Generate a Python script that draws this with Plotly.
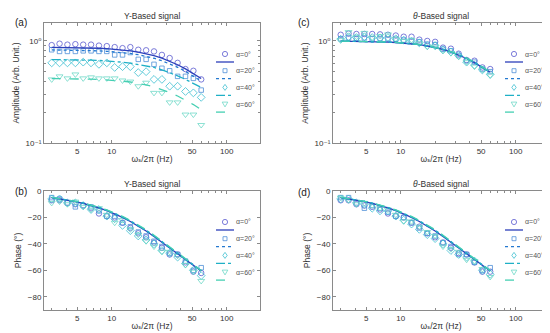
import plotly.graph_objects as go

# ---------------- data ----------------
freq = [3.0, 3.51, 4.11, 4.82, 5.64, 6.60, 7.73, 9.05, 10.6, 12.4,
        14.5, 17.0, 19.9, 23.3, 27.3, 31.9, 37.4, 43.8, 51.3, 60.0]

alpha_labels = ["α=0°", "α=20°", "α=40°", "α=60°"]

# (a) Y-based amplitude: measured points and model lines
ya_a0 = [0.91, 0.94, 0.92, 0.93, 0.92, 0.92, 0.90, 0.89, 0.87, 0.85,
         0.87, 0.82, 0.81, 0.79, 0.73, 0.68, 0.61, 0.53, 0.51, 0.42]
ya_a20 = [0.82, 0.79, 0.79, 0.79, 0.80, 0.80, 0.79, 0.79, 0.73, 0.73,
          0.77, 0.66, 0.66, 0.59, 0.54, 0.51, 0.45, 0.45, 0.43, 0.33]
ya_a40 = [0.61, 0.61, 0.61, 0.61, 0.62, 0.61, 0.59, 0.61, 0.55, 0.56,
          0.56, 0.49, 0.50, 0.42, 0.42, 0.36, 0.36, 0.32, 0.31, 0.28]
ya_a60 = [0.42, 0.45, 0.43, 0.47, 0.43, 0.44, 0.43, 0.43, 0.43, 0.41,
          0.40, 0.36, 0.39, 0.31, 0.31, 0.25, 0.25, 0.19, 0.19, 0.15]
ya_l0 = [0.867, 0.866, 0.864, 0.861, 0.858, 0.854, 0.848, 0.841, 0.831, 0.817,
         0.800, 0.778, 0.751, 0.718, 0.679, 0.634, 0.585, 0.533, 0.481, 0.429]
ya_l20 = [0.817, 0.816, 0.814, 0.812, 0.809, 0.805, 0.800, 0.792, 0.783, 0.770,
          0.754, 0.733, 0.708, 0.677, 0.640, 0.598, 0.552, 0.503, 0.453, 0.404]
ya_l40 = [0.657, 0.657, 0.655, 0.653, 0.651, 0.648, 0.644, 0.638, 0.630, 0.620,
          0.607, 0.590, 0.572, 0.550, 0.522, 0.490, 0.455, 0.420, 0.385, 0.350]
ya_l60 = [0.428, 0.428, 0.427, 0.426, 0.424, 0.422, 0.419, 0.415, 0.411, 0.404,
          0.396, 0.384, 0.371, 0.355, 0.335, 0.313, 0.289, 0.264, 0.238, 0.212]

# (c) theta-based amplitude
ta_a0 = [1.15, 1.18, 1.17, 1.17, 1.17, 1.16, 1.15, 1.13, 1.10, 1.10,
         1.03, 1.00, 0.98, 0.86, 0.84, 0.75, 0.65, 0.64, 0.55, 0.53]
ta_a20 = [1.05, 1.07, 1.06, 1.07, 1.05, 1.06, 1.05, 1.04, 1.02, 1.00,
          0.98, 0.93, 0.92, 0.83, 0.80, 0.72, 0.64, 0.62, 0.53, 0.50]
ta_a40 = [1.04, 1.10, 1.08, 1.10, 1.08, 1.07, 1.08, 1.05, 1.02, 1.00,
          0.96, 0.90, 0.90, 0.82, 0.78, 0.72, 0.62, 0.58, 0.52, 0.47]
ta_a60 = [1.02, 1.22, 1.10, 1.20, 1.08, 1.12, 1.16, 1.05, 1.00, 1.02,
          0.95, 0.88, 0.88, 0.80, 0.76, 0.70, 0.62, 0.56, 0.52, 0.46]
ta_l0 = [0.996, 0.995, 0.993, 0.990, 0.987, 0.982, 0.975, 0.966, 0.955, 0.939,
         0.920, 0.894, 0.863, 0.825, 0.780, 0.729, 0.673, 0.613, 0.553, 0.493]
ta_l20 = [0.996, 0.995, 0.993, 0.990, 0.987, 0.982, 0.975, 0.966, 0.955, 0.940,
          0.921, 0.895, 0.864, 0.826, 0.781, 0.730, 0.674, 0.614, 0.554, 0.494]
ta_l40 = [0.997, 0.996, 0.994, 0.991, 0.988, 0.983, 0.976, 0.967, 0.956, 0.941,
          0.922, 0.896, 0.866, 0.828, 0.783, 0.732, 0.676, 0.616, 0.556, 0.496]
ta_l60 = [0.998, 0.997, 0.995, 0.992, 0.989, 0.984, 0.978, 0.969, 0.958, 0.943,
          0.924, 0.899, 0.869, 0.831, 0.786, 0.735, 0.679, 0.619, 0.559, 0.499]

# (b) Y-based phase
yp_a0 = [-7, -7, -9, -10, -11, -13, -17, -19, -20, -24,
         -28, -32, -35, -39, -43, -48, -48, -54, -61, -62]
yp_a20 = [-5, -6, -9, -12, -11, -12, -15, -19, -19, -24,
          -27, -31, -34, -38, -42, -47, -48, -53, -60, -58]
yp_a40 = [-6, -6, -9, -9, -11, -14, -14, -19, -21, -26,
          -30, -34, -37, -40, -45, -47, -50, -55, -60, -64]
yp_a60 = [-9, -8, -10, -8, -12, -14, -13, -18, -24, -22,
          -29, -33, -38, -42, -46, -46, -49, -56, -61, -68]
yp_l0 = [-5.0, -5.9, -6.9, -8.1, -9.4, -11.0, -12.8, -14.9, -17.3, -20.0,
         -23.1, -26.6, -30.3, -34.4, -38.8, -43.2, -47.7, -52.2, -56.5, -60.5]
yp_l20 = [-5.0, -5.9, -6.9, -8.0, -9.3, -10.9, -12.7, -14.8, -17.2, -19.9,
          -23.0, -26.4, -30.1, -34.2, -38.6, -43.0, -47.5, -52.0, -56.3, -60.4]
yp_l40 = [-4.9, -5.8, -6.8, -7.9, -9.2, -10.7, -12.5, -14.5, -16.9, -19.5,
          -22.6, -26.0, -29.7, -33.8, -38.2, -42.6, -47.1, -51.7, -56.1, -60.2]
yp_l60 = [-4.9, -5.7, -6.7, -7.8, -9.1, -10.6, -12.3, -14.3, -16.6, -19.2,
          -22.2, -25.6, -29.3, -33.4, -37.8, -42.3, -46.9, -51.5, -56.0, -60.1]

# (d) theta-based phase
tp_a0 = [-7, -7, -10, -11, -12, -14, -17, -19, -20, -24,
         -27, -32, -35, -39, -43, -47, -48, -54, -61, -61]
tp_a20 = [-5, -5, -9, -13, -11, -13, -16, -19, -20, -24,
          -28, -32, -34, -39, -42, -48, -48, -54, -60, -58]
tp_a40 = [-6, -6, -9, -10, -13, -15, -15, -19, -22, -25,
          -29, -33, -36, -40, -45, -48, -50, -53, -60, -63]
tp_a60 = [-5, -7, -10, -9, -11, -13, -14, -18, -23, -23,
          -27, -31, -34, -42, -44, -46, -52, -53, -59, -65]
tp_l0, tp_l20, tp_l40, tp_l60 = yp_l0, yp_l20, yp_l40, yp_l60

# ticks
x_major = [5, 10, 50, 100]
x_minor = [3, 4, 6, 7, 8, 9, 20, 30, 40, 60, 70, 80, 90]
amp_ticks = [0.1, 1]
amp_ticktext = ["10⁻¹", "10⁰"]
amp_minor = [0.2, 0.3, 0.4, 0.5, 0.6, 0.7, 0.8, 0.9]
ph_ticks = [0, -20, -40, -60, -80]

# ---------------- styles ----------------
marker_colors = ["#5a5acf", "#4f8fd8", "#3cbfd0", "#6dd8c6"]
line_colors = ["#2c3fba", "#2579d0", "#1fb0c6", "#45cfb2"]
symbols = ["circle-open", "square-open", "diamond-open", "triangle-down-open"]
msizes = [5.5, 4.5, 6, 6]
dashes = ["solid", "dot", "dashdot", "dash"]
glyph_paths = [None,
               "M-2,-2 L2,-2 L2,2 L-2,2 Z",
               "M0,-3 L2.2,0 L0,3 L-2.2,0 Z",
               "M-2.8,2 L2.8,2 L0,-2.8 Z"]

W, H = 550, 333
box = {  # left, right, top, bottom (px)
    "a": (36, 252, 15, 135),
    "c": (325, 541, 15, 135),
    "b": (36, 252, 183, 302),
    "d": (325, 541, 183, 302),
}
def dom(b):
    l, r, t, bt = b
    return [l / W, r / W], [1 - bt / H, 1 - t / H]

panels = {
    "a": dict(xa="x", ya="y", meas=[ya_a0, ya_a20, ya_a40, ya_a60], lines=[ya_l0, ya_l20, ya_l40, ya_l60]),
    "c": dict(xa="x2", ya="y2", meas=[ta_a0, ta_a20, ta_a40, ta_a60], lines=[ta_l0, ta_l20, ta_l40, ta_l60]),
    "b": dict(xa="x3", ya="y3", meas=[yp_a0, yp_a20, yp_a40, yp_a60], lines=[yp_l0, yp_l20, yp_l40, yp_l60]),
    "d": dict(xa="x4", ya="y4", meas=[tp_a0, tp_a20, tp_a40, tp_a60], lines=[tp_l0, tp_l20, tp_l40, tp_l60]),
}

fig = go.Figure()
for key, p in panels.items():
    for i in range(4):
        fig.add_trace(go.Scatter(
            x=freq, y=p["meas"][i], mode="markers", xaxis=p["xa"], yaxis=p["ya"],
            name=alpha_labels[i],
            marker=dict(symbol=symbols[i], size=msizes[i], color=marker_colors[i],
                        line=dict(width=0.8, color=marker_colors[i])),
            showlegend=False, hoverinfo="skip"))
    for i in range(4):
        fig.add_trace(go.Scatter(
            x=freq, y=p["lines"][i], mode="lines", xaxis=p["xa"], yaxis=p["ya"],
            line=dict(color=line_colors[i], width=1.3, dash=dashes[i]),
            showlegend=False, hoverinfo="skip"))

axcol = "#8a8a8a"
font_family = "Liberation Sans, Arial, DejaVu Sans, sans-serif"
common_x = dict(type="log", range=[0.41, 2.29], tickvals=x_major, ticktext=[str(v) for v in x_major],
                ticks="inside", ticklen=3, tickcolor=axcol, showline=True, linecolor=axcol,
                linewidth=1, mirror="ticks", showgrid=False, zeroline=False, automargin=False,
                minor=dict(tickvals=x_minor, ticks="inside", ticklen=2, tickcolor=axcol),
                tickfont=dict(size=8, color="#333"),
                title=dict(text="ωₛ/2π (Hz)", font=dict(size=8.5, color="#333"), standoff=1))
amp_y = dict(type="log", range=[-1, 0.176], tickvals=amp_ticks, ticktext=amp_ticktext,
             ticks="inside", ticklen=3, tickcolor=axcol, showline=True, linecolor=axcol,
             linewidth=1, mirror="ticks", showgrid=False, zeroline=False, automargin=False,
             minor=dict(tickvals=amp_minor, ticks="inside", ticklen=2, tickcolor=axcol),
             tickfont=dict(size=8, color="#333"),
             title=dict(text="Amplitude (Arb. Unit.)", font=dict(size=8.5, color="#333"), standoff=4))
ph_y = dict(range=[-90, 0], tickvals=ph_ticks, ticks="inside", ticklen=3, tickcolor=axcol,
            showline=True, linecolor=axcol, linewidth=1, mirror="ticks", showgrid=False,
            zeroline=False, automargin=False, tickfont=dict(size=8, color="#333"),
            title=dict(text="Phase (°)", font=dict(size=8.5, color="#333"), standoff=4))

fig.update_layout(
    width=W, height=H, margin=dict(l=0, r=0, t=0, b=0, autoexpand=False),
    paper_bgcolor="white", plot_bgcolor="white", showlegend=False,
    font=dict(family=font_family, size=8, color="#333"),
)

axmap = {"a": ("xaxis", "yaxis", amp_y), "c": ("xaxis2", "yaxis2", amp_y),
         "b": ("xaxis3", "yaxis3", ph_y), "d": ("xaxis4", "yaxis4", ph_y)}
for key, p in panels.items():
    xk, yk, ystyle = axmap[key]
    xd, yd = dom(box[key])
    fig.update_layout(**{xk: dict(common_x, domain=xd, anchor=p["ya"]),
                         yk: dict(ystyle, domain=yd, anchor=p["xa"])})

# ---------------- in-panel legends: marker row with label, line row below ----------------
shapes = []
annotations = []
for key in panels:
    l, r, t, bt = box[key]
    for i in range(4):
        my = t + 31 + 16.7 * i
        ly = t + 39 + 16.7 * i
        mx = r - 35
        if i == 0:
            shapes.append(dict(type="circle", xref="paper", yref="paper",
                               xsizemode="pixel", ysizemode="pixel",
                               xanchor=mx / W, yanchor=1 - my / H,
                               x0=-2.6, x1=2.6, y0=-2.6, y1=2.6,
                               line=dict(color=marker_colors[i], width=0.8)))
        else:
            shapes.append(dict(type="path", xref="paper", yref="paper",
                               xsizemode="pixel", ysizemode="pixel",
                               xanchor=mx / W, yanchor=1 - my / H,
                               path=glyph_paths[i],
                               line=dict(color=marker_colors[i], width=0.8)))
        annotations.append(dict(text=alpha_labels[i], x=(r - 26) / W, y=1 - my / H,
                                xref="paper", yref="paper", showarrow=False,
                                xanchor="left", yanchor="middle",
                                font=dict(size=7, color="#555")))
        shapes.append(dict(type="line", xref="paper", yref="paper",
                           x0=(r - 44) / W, x1=(r - 26) / W, y0=1 - ly / H, y1=1 - ly / H,
                           line=dict(color=line_colors[i], width=1.3, dash=dashes[i])))

titles = [("Y-Based signal", "a"), ("<i>θ</i>-Based signal", "c"),
          ("Y-Based signal", "b"), ("<i>θ</i>-Based signal", "d")]
for txt, key in titles:
    l, r, t, bt = box[key]
    annotations.append(dict(text=txt, x=(l + r) / 2 / W, y=1 - (t - 7) / H, xref="paper",
                            yref="paper", showarrow=False, font=dict(size=8.5, color="#333"),
                            xanchor="center", yanchor="middle"))
labels = [("(a)", 5, 15), ("(c)", 288, 15), ("(b)", 5, 183), ("(d)", 288, 184)]
for txt, xp, yp in labels:
    annotations.append(dict(text=txt, x=xp / W, y=1 - yp / H, xref="paper", yref="paper",
                            showarrow=False, font=dict(size=10, color="#222"),
                            xanchor="left", yanchor="middle"))
fig.update_layout(shapes=shapes, annotations=annotations)

fig.write_html("out.html")
